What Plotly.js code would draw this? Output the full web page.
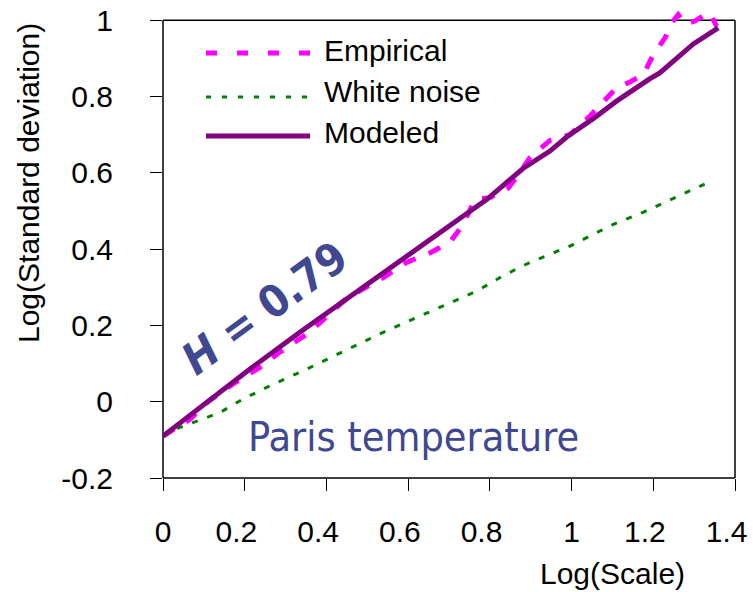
<!DOCTYPE html>
<html>
<head>
<meta charset="utf-8">
<script src="https://cdn.plot.ly/plotly-3.0.1.min.js"></script>
<style>html,body{margin:0;padding:0;background:#fff;}#chart{width:753px;height:592px;}</style>
</head>
<body>
<div id="chart"></div>
<script>
// ---- data ----
const empiricalX = [0, 0.066, 0.11, 0.176, 0.237, 0.286, 0.36, 0.45, 0.54, 0.596, 0.653, 0.702, 0.735, 0.763, 0.80, 0.829, 0.845, 0.874, 0.898, 0.947, 0.996, 1.045, 1.082, 1.11, 1.143, 1.176, 1.2, 1.229, 1.245, 1.261, 1.278, 1.302, 1.327, 1.339, 1.355];
const empiricalY = [-0.09, -0.046, 0.0, 0.05, 0.09, 0.13, 0.183, 0.272, 0.326, 0.365, 0.39, 0.418, 0.465, 0.53, 0.535, 0.55, 0.56, 0.601, 0.64, 0.685, 0.70, 0.749, 0.79, 0.823, 0.838, 0.858, 0.91, 0.954, 0.993, 1.015, 0.99, 0.998, 1.015, 1.019, 0.984];

const whiteX = [0, 0.042, 0.07, 0.14, 0.196, 0.27, 0.343, 0.44, 0.539, 0.645, 0.735, 0.768, 0.837, 0.898, 0.996, 1.102, 1.176, 1.255, 1.343];
const whiteY = [-0.09, -0.067, -0.056, -0.028, 0.007, 0.046, 0.081, 0.13, 0.182, 0.232, 0.274, 0.29, 0.333, 0.365, 0.408, 0.465, 0.497, 0.535, 0.579];

const modeledX = [0, 0.115, 0.213, 0.335, 0.458, 0.531, 0.588, 0.613, 0.735, 0.792, 0.817, 0.882, 0.947, 0.988, 1.053, 1.110, 1.192, 1.216, 1.298, 1.359];
const modeledY = [-0.09, 0.005, 0.086, 0.182, 0.277, 0.33, 0.376, 0.395, 0.487, 0.53, 0.553, 0.612, 0.657, 0.694, 0.742, 0.788, 0.847, 0.862, 0.938, 0.980];

const seriesNames = ["Empirical", "White noise", "Modeled"];
const NB = "\u00a0\u00a0";
const xTickVals = [0, 0.2, 0.4, 0.6, 0.8, 1, 1.2, 1.4];
const xTickText = ["0", "0.2" + NB, "0.4" + NB, "0.6" + NB, "0.8" + NB, "1", "1.2" + NB, "1.4" + NB];
const yTickVals = [-0.2, 0, 0.2, 0.4, 0.6, 0.8, 1];
const yTickText = ["-0.2", "0", "0.2", "0.4", "0.6", "0.8", "1"];
const xTitle = "Log(Scale)";
const yTitle = "Log(Standard deviation)";
const hText = "<i>H</i> = 0.79";
const placeText = "Paris temperature";

// ---- layout helpers ----
const W = 753, H = 592;
const M = {l: 163, r: 18, t: 5, b: 114};
const pw = W - M.l - M.r, ph = H - M.t - M.b;
const pxX = px => (px - M.l) / pw;
const pxY = py => (H - M.b - py) / ph;
const xRange = [0, 1.4], yRange = [-0.2, 1.04];
const yTopPaper = (1 - yRange[0]) / (yRange[1] - yRange[0]);

const COL_EMP = "#FF00FF", COL_WN = "#008000", COL_MOD = "#800080", COL_TXT = "#3F4890";
const tickFont = {family: "Liberation Sans, Arial, sans-serif", size: 30, color: "#000"};

const traces = [
  {x: empiricalX, y: empiricalY, name: seriesNames[0], mode: "lines", line: {color: COL_EMP, width: 5, dash: "13px,14px"}},
  {x: whiteX, y: whiteY, name: seriesNames[1], mode: "lines", line: {color: COL_WN, width: 3, dash: "6px,10px"}},
  {x: modeledX, y: modeledY, name: seriesNames[2], mode: "lines", line: {color: COL_MOD, width: 5}}
];

const box = {type: "line", xref: "paper", yref: "paper", line: {color: "#000", width: 1.5}, layer: "below"};
const legendRows = [
  {py: 53, ty: 51, color: COL_EMP, width: 5, dash: "11px,20px"},
  {py: 97, ty: 92, color: COL_WN, width: 3, dash: "5px,11px"},
  {py: 136, ty: 132, color: COL_MOD, width: 5, dash: "solid"}
];

const shapes = [
  Object.assign({}, box, {x0: 0, x1: 0, y0: 0, y1: yTopPaper}),
  Object.assign({}, box, {x0: 0, x1: 1, y0: 0, y1: 0}),
  Object.assign({}, box, {x0: 0, x1: 1, y0: yTopPaper, y1: yTopPaper}),
  Object.assign({}, box, {x0: 1, x1: 1, y0: 0, y1: yTopPaper})
];
const annotations = [];
legendRows.forEach((r, i) => {
  shapes.push({type: "line", xref: "paper", yref: "paper", x0: pxX(206), x1: pxX(310), y0: pxY(r.py), y1: pxY(r.py),
    line: {color: r.color, width: r.width, dash: r.dash}});
  annotations.push({xref: "paper", yref: "paper", x: pxX(322), y: pxY(r.ty), xanchor: "left", yanchor: "middle",
    text: seriesNames[i], showarrow: false, font: tickFont});
});
annotations.push({xref: "paper", yref: "paper", x: pxX(612), y: pxY(573), xanchor: "center", yanchor: "middle",
  text: xTitle, showarrow: false, borderpad: 0, font: tickFont});
annotations.push({xref: "paper", yref: "paper", x: pxX(28), y: pxY(183), xanchor: "center", yanchor: "middle",
  text: yTitle, textangle: -90, showarrow: false, font: tickFont});
annotations.push({xref: "paper", yref: "paper", x: pxX(265), y: pxY(308), xanchor: "center", yanchor: "middle",
  text: "<b>" + hText + "</b>", textangle: -36, showarrow: false,
  font: {family: "DejaVu Sans Condensed, DejaVu Sans, sans-serif", size: 44, color: COL_TXT}});
annotations.push({xref: "paper", yref: "paper", x: pxX(246), y: pxY(437), xanchor: "left", yanchor: "middle",
  text: placeText, showarrow: false,
  font: {family: "DejaVu Sans Condensed, DejaVu Sans, sans-serif", size: 41, color: COL_TXT}});

const layout = {
  width: W, height: H, margin: M, paper_bgcolor: "#fff", plot_bgcolor: "#fff", showlegend: false,
  xaxis: {range: xRange, tickmode: "array", tickvals: xTickVals, ticktext: xTickText, showgrid: false, zeroline: false,
    showline: false, ticks: "outside", ticklen: 12, tickwidth: 1, tickcolor: "#000", tickfont: tickFont,
    ticklabelstandoff: 15, ticklabeloverflow: "allow"},
  yaxis: {range: yRange, tickmode: "array", tickvals: yTickVals, ticktext: yTickText, showgrid: false, zeroline: false,
    showline: false, ticks: "outside", ticklen: 12, tickwidth: 1, tickcolor: "#000", tickfont: tickFont,
    ticklabelstandoff: 31, ticklabeloverflow: "allow"},
  shapes: shapes, annotations: annotations
};
Plotly.newPlot("chart", traces, layout, {staticPlot: true});
</script>
</body>
</html>
